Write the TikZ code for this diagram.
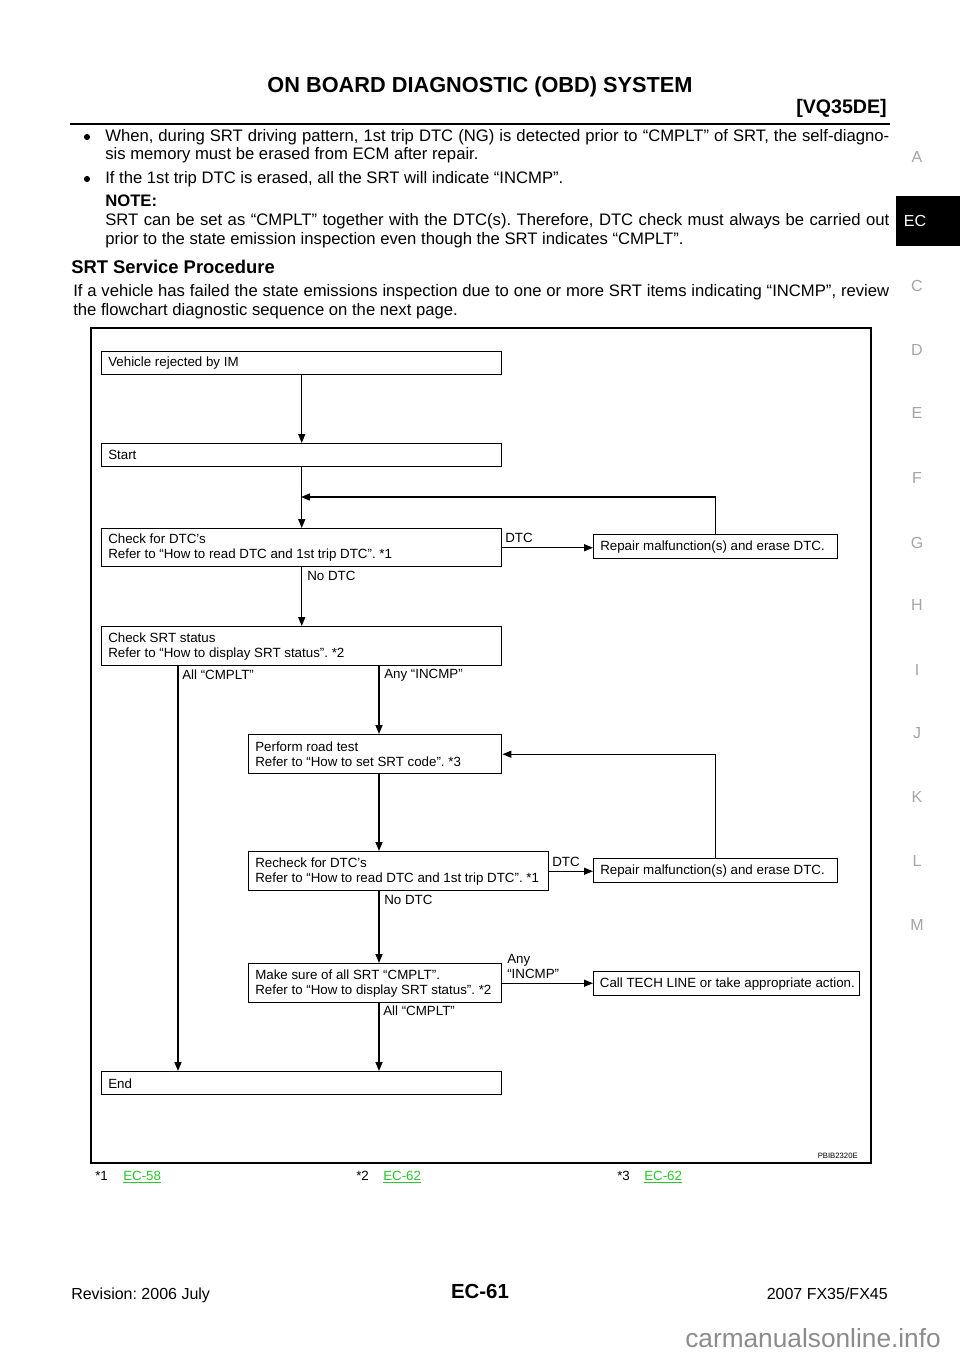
\documentclass[tikz,border=0pt]{standalone}
\usepackage{fontspec}
\setmainfont{Liberation Sans}
\usetikzlibrary{arrows.meta}
\definecolor{linkgreen}{RGB}{40,200,40}
\definecolor{tabgray}{RGB}{165,165,165}
\definecolor{wmgray}{RGB}{140,140,140}
\frenchspacing
\begin{document}
\begin{tikzpicture}[x=0.75pt,y=-0.75pt,
  chartfont/.style={font=\fontsize{10}{11.25}\selectfont},
  box/.style={draw, line width=1.1pt, inner sep=0pt, anchor=north west},
  txt/.style={chartfont, anchor=west, inner sep=0pt, align=left},
  lbl/.style={chartfont, anchor=west, inner sep=0pt},
  conn/.style={line width=1.1pt, -{Triangle[length=6.75pt,width=5.25pt]}},
  wire/.style={line width=1.1pt},
  body/.style={anchor=base west, inner sep=0pt, font=\fontsize{12.5}{15}\selectfont},
  tab/.style={anchor=center, inner sep=0pt, text=tabgray, font=\fontsize{12}{14}\selectfont}
]
% page
\path[use as bounding box, fill=white] (0,0) rectangle (960,1358);

% header
\node[anchor=base, inner sep=0pt, font=\bfseries\fontsize{16.3}{18}\selectfont] (title) at (480,93) {ON BOARD DIAGNOSTIC (OBD) SYSTEM};
\node[anchor=base east, inner sep=0pt, font=\bfseries\fontsize{14.7}{17}\selectfont] (eng) at (887,114) {[VQ35DE]};
\draw[line width=2.2pt] (70,124) -- (890,124);

% body text
\fill (87,137) circle (2.3pt);
\node[body] (b1a) at (105,142) {\makebox[588pt][s]{When, during SRT driving pattern, 1st trip DTC (NG) is detected prior to “CMPLT” of SRT, the self-diagno-}};
\node[body] (b1b) at (105,160) {sis memory must be erased from ECM after repair.};
\fill (87,179) circle (2.3pt);
\node[body] (b2) at (105,184) {If the 1st trip DTC is erased, all the SRT will indicate “INCMP”.};
\node[body, font=\bfseries\fontsize{12.5}{15}\selectfont] (note) at (105,207) {NOTE:};
\node[body] (n1) at (105,226) {\makebox[588pt][s]{SRT can be set as “CMPLT” together with the DTC(s). Therefore, DTC check must always be carried out}};
\node[body] (n2) at (105,245) {prior to the state emission inspection even though the SRT indicates “CMPLT”.};
\node[body, font=\bfseries\fontsize{13.8}{16}\selectfont] (sec) at (71,274) {SRT Service Procedure};
\node[body] (p1) at (73,297) {\makebox[612pt][s]{If a vehicle has failed the state emissions inspection due to one or more SRT items indicating “INCMP”, review}};
\node[body] (p2) at (73,316) {the flowchart diagnostic sequence on the next page.};

% side tabs
\node[tab] (tA) at (917,157) {A};
\fill[black] (896,196) rectangle (960,246);
\node[tab, text=white] (tEC) at (915,221) {EC};
\node[tab] (tC) at (917,286) {C};
\node[tab] (tD) at (917,350) {D};
\node[tab] (tE) at (917,413) {E};
\node[tab] (tF) at (917,478) {F};
\node[tab] (tG) at (917,543) {G};
\node[tab] (tH) at (917,605) {H};
\node[tab] (tI) at (917,670) {I};
\node[tab] (tJ) at (917,733) {J};
\node[tab] (tK) at (917,797) {K};
\node[tab] (tL) at (917,861) {L};
\node[tab] (tM) at (917,925) {M};

% frame
\draw[line width=1.1pt] (91,328) rectangle (871,1163);

% boxes
\node[box, minimum width=300pt, minimum height=17.25pt] (V) at (101,351) {};
\node[txt] (Vt) at ([xshift=5.25pt]V.west) {Vehicle rejected by IM};
\node[box, minimum width=300pt, minimum height=17.25pt] (S) at (101,443) {};
\node[txt] (St) at ([xshift=5.25pt]S.west) {Start};
\node[box, minimum width=300pt, minimum height=28.5pt] (CD) at (101,528) {};
\node[txt] (CDt) at ([xshift=5.25pt]CD.west) {Check for DTC’s\\Refer to “How to read DTC and 1st trip DTC”. *1};
\node[box, minimum width=183pt, minimum height=18pt] (R1) at (593,534) {};
\node[txt] (R1t) at ([xshift=5.25pt]R1.west) {Repair malfunction(s) and erase DTC.};
\node[box, minimum width=300pt, minimum height=29.25pt] (CS) at (101,626) {};
\node[txt] (CSt) at ([xshift=5.25pt]CS.west) {Check SRT status\\Refer to “How to display SRT status”. *2};
\node[box, minimum width=189.75pt, minimum height=29.25pt] (PR) at (248,734) {};
\node[txt] (PRt) at ([xshift=5.25pt]PR.west) {Perform road test\\Refer to “How to set SRT code”. *3};
\node[box, minimum width=225pt, minimum height=29.25pt] (RC) at (248,851) {};
\node[txt] (RCt) at ([xshift=5.25pt]RC.west) {Recheck for DTC’s\\Refer to “How to read DTC and 1st trip DTC”. *1};
\node[box, minimum width=183pt, minimum height=18pt] (R2) at (593,858) {};
\node[txt] (R2t) at ([xshift=5.25pt]R2.west) {Repair malfunction(s) and erase DTC.};
\node[box, minimum width=189.75pt, minimum height=29.25pt] (MS) at (248,963) {};
\node[txt] (MSt) at ([xshift=5.25pt]MS.west) {Make sure of all SRT “CMPLT”.\\Refer to “How to display SRT status”. *2};
\node[box, minimum width=199.5pt, minimum height=18pt] (CT) at (593,971) {};
\node[txt] (CTt) at ([xshift=5pt]CT.west) {Call TECH LINE or take appropriate action.};
\node[box, minimum width=300pt, minimum height=17.25pt] (EN) at (101,1071) {};
\node[txt] (ENt) at ([xshift=5.25pt]EN.west) {End};

% helper coordinates
\coordinate (j1) at (301,497);
\coordinate (xa) at (178,700);
\coordinate (xb) at (379,700);

% connectors
\draw[conn] (V.south) -- (S.north);
\draw[conn] (S.south) -- (CD.north);
\draw[conn] (R1.north) |- (j1);
\draw[conn] (CD.east) -- (CD.east -| R1.west);
\draw[conn] (CD.south) -- (CS.north);
\draw[conn] (CS.south -| xa) -- (EN.north -| xa);
\draw[conn] (CS.south -| xb) -- (PR.north -| xb);
\draw[conn] (PR.south -| xb) -- (RC.north -| xb);
\draw[conn] (R2.north) |- (PR.east);
\draw[conn] (RC.east) -- (RC.east -| R2.west);
\draw[conn] (RC.south -| xb) -- (MS.north -| xb);
\draw[conn] (MS.east) -- (MS.east -| CT.west);
\draw[conn] (MS.south -| xb) -- (EN.north -| xb);

% connector labels
\node[lbl] (l1) at (505,538) {DTC};
\node[lbl] (l2) at (307,576) {No DTC};
\node[lbl] (l3) at (182,675) {All “CMPLT”};
\node[lbl] (l4) at (384,675) {Any “INCMP”};
\node[lbl] (l5) at (552,862) {DTC};
\node[lbl] (l6) at (384,900) {No DTC};
\node[lbl, align=left] (l7) at (507,966) {Any\\“INCMP”};
\node[lbl] (l8) at (383,1011) {All “CMPLT”};

\node[anchor=base east, inner sep=0pt, font=\fontsize{5.8}{7}\selectfont] (code) at (858,1158.5) {PBIB2320E};

% footnotes
\node[anchor=base west, inner sep=0pt, font=\fontsize{10}{12}\selectfont] (f1) at (95,1180) {*1};
\node[anchor=base west, inner sep=0pt, font=\fontsize{10}{12}\selectfont, text=linkgreen] (f1l) at (123,1180) {\underline{EC-58}};
\node[anchor=base west, inner sep=0pt, font=\fontsize{10}{12}\selectfont] (f2) at (356,1180) {*2};
\node[anchor=base west, inner sep=0pt, font=\fontsize{10}{12}\selectfont, text=linkgreen] (f2l) at (383,1180) {\underline{EC-62}};
\node[anchor=base west, inner sep=0pt, font=\fontsize{10}{12}\selectfont] (f3) at (617,1180) {*3};
\node[anchor=base west, inner sep=0pt, font=\fontsize{10}{12}\selectfont, text=linkgreen] (f3l) at (644,1180) {\underline{EC-62}};

% footer
\node[anchor=base west, inner sep=0pt, font=\fontsize{12}{14}\selectfont] (rev) at (71,1299) {Revision: 2006 July};
\node[anchor=base, inner sep=0pt, font=\bfseries\fontsize{15.3}{18}\selectfont] (pg) at (480,1298) {EC-61};
\node[anchor=base east, inner sep=0pt, font=\fontsize{12}{14}\selectfont] (mdl) at (888,1299) {2007 FX35/FX45};
\node[anchor=base west, inner sep=0pt, text=wmgray, font=\fontsize{19.7}{22}\selectfont] (wm) at (685,1347) {carmanualsonline.info};
\end{tikzpicture}
\end{document}
